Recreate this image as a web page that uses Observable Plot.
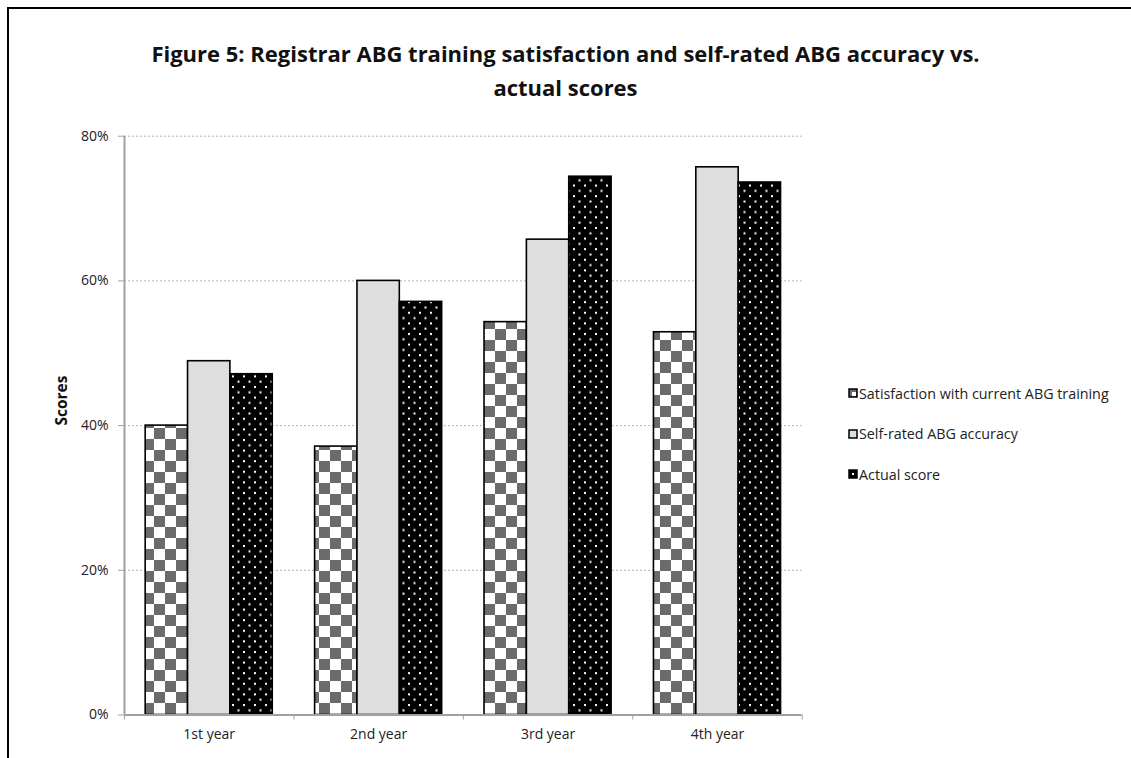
<!DOCTYPE html>
<html>
<head>
<meta charset="utf-8">
<script src="https://cdn.jsdelivr.net/npm/d3@7"></script>
<script src="https://cdn.jsdelivr.net/npm/@observablehq/plot@0.6"></script>
<style>
  html, body { margin: 0; padding: 0; background: #fff; }
  #page { position: relative; width: 1131px; height: 758px; overflow: hidden; font-family: "Open Sans", Lato, sans-serif; color: #222; }
  #frame { position: absolute; left: 7px; top: 7px; width: 1300px; height: 900px; border-left: 2px solid #000; border-top: 2px solid #000; }
  #title { position: absolute; left: 0; top: 36px; width: 1131px; text-align: center; font-weight: bold; font-size: 22px; line-height: 34px; color: #111; }
  #chart { position: absolute; left: 0; top: 120px; }
  #legend { position: absolute; left: 848px; top: 383px; font-size: 14.3px; color: #222; }
  .item { display: flex; align-items: center; height: 20px; margin-bottom: 20.5px; }
  .item svg { margin-right: 1px; }
</style>
</head>
<body>
<div id="page">
  <svg width="0" height="0" style="position:absolute">
    <defs>
      <pattern id="checker" patternUnits="userSpaceOnUse" width="22" height="22">
        <rect width="22" height="22" fill="#fff"/>
        <rect x="0" y="0" width="11" height="11" fill="#6b6b6b"/>
        <rect x="11" y="11" width="11" height="11" fill="#6b6b6b"/>
      </pattern>
      <pattern id="dots" patternUnits="userSpaceOnUse" width="11" height="10.6">
        <rect width="11" height="10.6" fill="#000"/>
        <rect x="1" y="1" width="2" height="2" fill="#fff"/>
        <rect x="6.5" y="6.3" width="2" height="2" fill="#fff"/>
      </pattern>
      <pattern id="checkerSmall" patternUnits="userSpaceOnUse" width="8" height="8">
        <rect width="8" height="8" fill="#6b6b6b"/>
        <rect x="4" y="4" width="4" height="4" fill="#fff"/>
      </pattern>
      <pattern id="dotsSmall" patternUnits="userSpaceOnUse" width="9" height="9">
        <rect width="9" height="9" fill="#000"/>
        <rect x="4" y="4" width="2" height="2" fill="#fff"/>
      </pattern>
    </defs>
  </svg>
  <div id="frame"></div>
  <div id="title">Figure 5: Registrar ABG training satisfaction and self-rated ABG accuracy vs.<br>actual scores</div>
  <div id="chart"></div>
  <div id="legend"></div>
</div>
<script>
// Scores by registrar year, in percent
const years = ["1st year", "2nd year", "3rd year", "4th year"];
const seriesNames = ["Satisfaction with current ABG training", "Self-rated ABG accuracy", "Actual score"];
const satisfaction = [40.0, 37.1, 54.3, 52.9];
const selfRated = [48.9, 60.0, 65.7, 75.7];
const actualScore = [47.1, 57.1, 74.4, 73.6];
const yTicks = [0, 20, 40, 60, 80];

// Long table: one row per (year, series)
const seriesValues = [satisfaction, selfRated, actualScore];
const rows = [];
years.forEach((year, i) => {
  seriesValues.forEach((vals, s) => {
    rows.push({yearIndex: i, year, series: s, name: seriesNames[s], value: vals[i]});
  });
});

// Bar fills per series and grouping geometry (fractions of one category step)
const fills = ["url(#checker)", "#dedede", "url(#dots)"];
const legendFills = ["url(#checkerSmall)", "#dedede", "url(#dotsSmall)"];
const groupOffset = 0.125;
const barStep = 0.25;

const chart = Plot.plot({
  width: 1131,
  height: 638,
  marginLeft: 124,
  marginRight: 329.3,
  marginTop: 15.7,
  marginBottom: 43.5,
  style: {fontFamily: "'Open Sans', Lato, sans-serif", fontSize: "14px", color: "#222", background: "transparent", overflow: "visible"},
  x: {type: "linear", domain: [0, years.length], axis: null},
  y: {domain: [0, 80], axis: null},
  color: {type: "identity"},
  marks: [
    Plot.gridY(yTicks.filter(v => v > 0), {stroke: "#b3b3b3", strokeOpacity: 1, strokeDasharray: "2,2"}),
    Plot.rectY(rows, {
      x1: d => d.yearIndex + groupOffset + d.series * barStep,
      x2: d => d.yearIndex + groupOffset + (d.series + 1) * barStep,
      y1: () => 0,
      y2: "value",
      fill: d => fills[d.series],
      stroke: "#000",
      strokeWidth: 1.6,
      style: "filter: drop-shadow(1px 0px 1.5px rgba(0,0,0,0.25))"
    }),
    // axis lines
    Plot.ruleX([0], {y1: 0, y2: 80, stroke: "#a0a0a0", strokeWidth: 2}),
    Plot.ruleY([0], {x1: 0, x2: years.length, stroke: "#a0a0a0", strokeWidth: 2}),
    Plot.axisY(yTicks, {label: null, tickSize: 6, tickPadding: 10, tickFormat: d => d + "%", stroke: "#a0a0a0", fill: "#222", fontSize: 14}),
    // category boundary ticks and centered labels
    Plot.axisX(d3.range(years.length + 1), {label: null, tickSize: 5, tickFormat: () => "", stroke: "#a0a0a0"}),
    Plot.axisX(years.map((d, i) => i + 0.5), {label: null, tickSize: 0, tickPadding: 14, tickFormat: v => years[Math.floor(v)], fill: "#222", fontSize: 14}),
    Plot.text(["Scores"], {frameAnchor: "left", rotate: -90, dx: -62, fontWeight: "bold", fontSize: 15.5, fill: "#111"})
  ]
});
document.getElementById("chart").appendChild(chart);

// Legend
const legend = d3.select("#legend");
seriesNames.forEach((name, s) => {
  const item = legend.append("div").attr("class", "item");
  const sw = item.append("svg").attr("width", 10).attr("height", 10);
  sw.append("rect").attr("x", 1).attr("y", 1).attr("width", 8).attr("height", 8)
    .attr("fill", legendFills[s]).attr("stroke", "#000").attr("stroke-width", 1.5);
  item.append("span").text(name);
});
</script>
</body>
</html>
